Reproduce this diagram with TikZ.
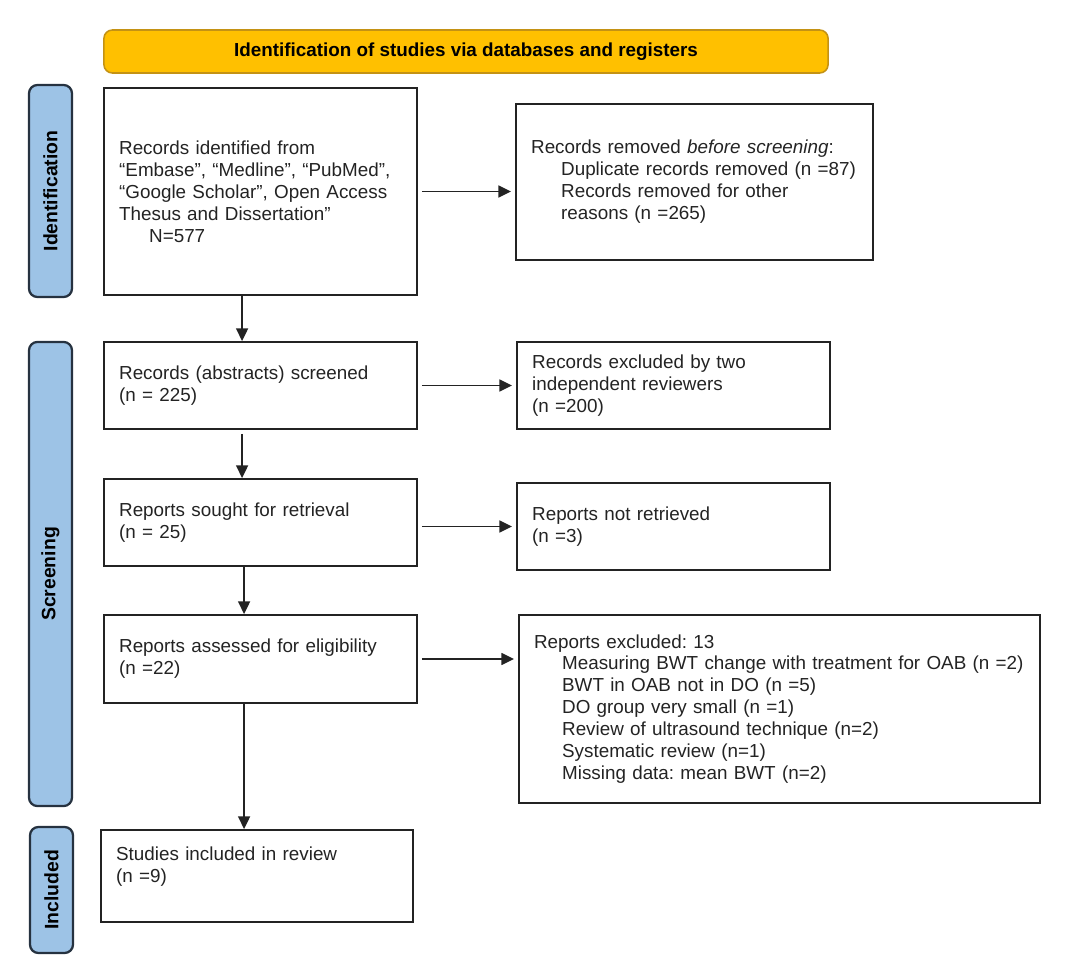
\documentclass[tikz,border=0pt]{standalone}
\usepackage{fontspec}
\setmainfont{Liberation Sans}
\usetikzlibrary{arrows.meta, positioning, calc}
\definecolor{prismagold}{RGB}{255,192,0}
\definecolor{prismagoldline}{RGB}{196,146,20}
\definecolor{prismablue}{RGB}{157,195,230}
\definecolor{prismanavy}{RGB}{38,50,64}
\definecolor{prismaink}{RGB}{35,35,35}
\frenchspacing

\begin{document}
\begin{tikzpicture}[
    x=0.025cm, y=-0.025cm,
    box/.style={draw=prismaink, line width=1.3pt, align=left, inner xsep=0.38cm, text=prismaink, font=\fontsize{13.4}{15.6}\selectfont},
    side/.style={draw=prismanavy, fill=prismablue, line width=1.6pt, rounded corners=6pt, rotate=90, minimum height=1.075cm, font=\fontsize{13.8}{16}\selectfont\bfseries},
    head/.style={draw=prismagoldline, fill=prismagold, line width=1.1pt, rounded corners=6pt, minimum width=18.1cm, minimum height=1.075cm, font=\fontsize{13.4}{16}\selectfont\bfseries},
    arr/.style={-{Triangle[length=9pt, width=8.5pt]}, line width=1.1pt, draw=prismaink}
  ]
  \useasboundingbox (0,0) rectangle (1080,964);

  % header and phase bars
  \node[head] (hdr) at (466,51.5) {Identification of studies via databases and registers};
  \node[side, minimum width=5.3cm] (sident) at (50.5,191) {Identification};
  \node[side, minimum width=11.6cm] (sscreen) at (50.5,574) {Screening};
  \node[side, minimum width=3.15cm] (sincl) at (51.5,890) {Included};

  % main column
  \node[box, text width=7.065cm, minimum height=5.175cm] (found) at (260.5,191.5)
    {Records identified from\\“Embase”, “Medline”, “PubMed”,\\“Google Scholar”, Open Access\\Thesus and Dissertation”\\\hspace*{0.75cm}N=577};
  \node[box, text width=7.065cm, minimum height=2.175cm] (screened) at (260.5,385.5)
    {Records (abstracts) screened\\(n = 225)};
  \node[box, text width=7.065cm, minimum height=2.175cm] (sought) at (260.5,522.5)
    {Reports sought for retrieval\\(n = 25)};
  \node[box, text width=7.065cm, minimum height=2.2cm] (assessed) at (260.5,659)
    {Reports assessed for eligibility\\(n =22)};
  \node[box, text width=7.04cm, minimum height=2.3cm] (included) at (257,876)
    {Studies included in review\\(n =9)\\\mbox{}};

  % side column
  \node[box, text width=8.165cm, minimum height=3.9cm] (removed) at (694.5,182)
    {Records removed \textit{before screening}:\\\hspace*{0.75cm}Duplicate records removed (n =87)\\\hspace*{0.75cm}Records removed for other\\\hspace*{0.75cm}reasons (n =265)};
  \node[box, text width=7.065cm, minimum height=2.175cm] (excluded) at (673.5,385.5)
    {Records excluded by two\\independent reviewers\\(n =200)};
  \node[box, text width=7.065cm, minimum height=2.175cm] (notfound) at (673.5,526.5)
    {Reports not retrieved\\(n =3)};
  \node[box, text width=12.265cm, minimum height=4.7cm] (reasons) at (779.5,709)
    {Reports excluded: 13\\\hspace*{0.7cm}Measuring BWT change with treatment for OAB (n =2)\\\hspace*{0.7cm}BWT in OAB not in DO (n =5)\\\hspace*{0.7cm}DO group very small (n =1)\\\hspace*{0.7cm}Review of ultrasound technique (n=2)\\\hspace*{0.7cm}Systematic review (n=1)\\\hspace*{0.7cm}Missing data: mean BWT (n=2)};

  \draw[arr, shorten <=0.1cm, shorten >=0.1cm] (found.east) -- (found.east -| removed.west);
  \draw[arr, shorten <=0.1cm, shorten >=0.1cm] (screened) -- (excluded);
  \draw[arr, shorten <=0.1cm, shorten >=0.1cm] (notfound.west -| sought.east) -- (notfound.west);
  \draw[arr, shorten <=0.1cm, shorten >=0.1cm] (assessed.east) -- (assessed.east -| reasons.west);

  \draw[arr] ([xshift=3.475cm]found.south west) -- ([xshift=3.475cm]found.south west |- screened.north);
  \draw[arr, shorten <=0.1cm] ([xshift=3.475cm]screened.south west) -- ([xshift=3.475cm]screened.south west |- sought.north);
  \draw[arr] ([xshift=3.525cm]sought.south west) -- ([xshift=3.525cm]sought.south west |- assessed.north);
  \draw[arr] ([xshift=3.525cm]assessed.south west) -- ([xshift=3.525cm]assessed.south west |- included.north);
\end{tikzpicture}
\end{document}
